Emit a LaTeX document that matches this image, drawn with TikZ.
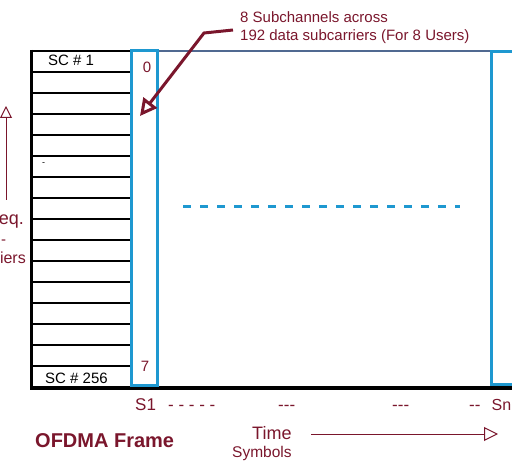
\documentclass[tikz,border=0pt]{standalone}
\usepackage{fontspec}
\setmainfont{Liberation Sans}
\usepackage{xcolor}
\usetikzlibrary{arrows.meta}
\definecolor{maroon}{RGB}{122,22,44}
\definecolor{symblue}{RGB}{30,152,208}
\definecolor{edgeblue}{RGB}{80,105,145}

\begin{document}
\begin{tikzpicture}[x=1pt,y=-1pt,
    lbl/.style={inner sep=0pt,text=maroon,anchor=base west},
    sclbl/.style={inner sep=0pt,anchor=base west,font=\fontsize{15}{18}\selectfont},
    symcol/.style={draw=symblue,line width=3pt,inner sep=0pt},
    scline/.style={line width=2.8pt,black},
    openhead/.style={-{Triangle[open,length=#1,width=#1]}}]
    \useasboundingbox (0,0) rectangle (512,468);
    \clip (0,0) rectangle (512,468);

    \foreach \i in {0,...,16}
        \draw[scline] (31,{51+21*\i}) -- (131,{51+21*\i});
    \draw[line width=3pt] (31,50) -- (31,389);
    \draw[line width=3.5pt] (30,388) -- (512,388);
    \draw[edgeblue,line width=2pt] (157,51) -- (491,51);

    \node[symcol,minimum width=26pt,minimum height=334pt] (sym1) at (144,218) {};
    \node[symcol,minimum width=40pt,minimum height=332pt] (symn) at (511,218) {};
    \draw[symblue,line width=3pt,dash pattern=on 8pt off 9pt] (183,207) -- (460,207);

    \node[sclbl] (sc1) at (48,66) {SC \# 1};
    \node[sclbl] (sc256) at (45,383) {SC \# 256};
    \node[inner sep=0pt,anchor=base west,font=\fontsize{9}{10}\selectfont] (mark) at (42,166) {-};
    \node[lbl,anchor=base,font=\fontsize{15}{16}\selectfont] (first) at (147,73) {0};
    \node[lbl,anchor=base,font=\fontsize{15}{16}\selectfont] (last) at (145,371) {7};

    \node[lbl,font=\fontsize{15}{18}\selectfont] (note1) at (240,22.7) {8 Subchannels across};
    \node[lbl,font=\fontsize{15}{18}\selectfont] (note2) at (240,40.7) {192 data subcarriers (For 8 Users)};
    \coordinate (from) at (233,30);
    \coordinate (bend) at (204,33);
    \coordinate (tip) at (140,116);
    \draw[maroon,line width=3pt,openhead=17pt] (from) -- (bend) -- (tip);

    \coordinate (flow) at (6,200);
    \coordinate (fhigh) at (6,106);
    \draw[maroon,line width=1pt,openhead=12pt] (flow) -- (fhigh);
    \node[lbl,anchor=base east,font=\fontsize{18}{20}\selectfont] (freq) at (24,225) {eq.};
    \node[lbl,font=\fontsize{15}{18}\selectfont] (hyph) at (1,245) {-};
    \node[lbl,anchor=base east,font=\fontsize{16}{18}\selectfont] (carr) at (26,263) {iers};

    \node[lbl,font=\fontsize{17}{20}\selectfont] (s1) at (135,410) {S1};
    \node[lbl,font=\fontsize{17}{20}\selectfont] (d1) at (168,410) {- - - - -};
    \node[lbl,font=\fontsize{17}{20}\selectfont] (d2) at (278,410) {-{}-{}-};
    \node[lbl,font=\fontsize{17}{20}\selectfont] (d3) at (392,410) {-{}-{}-};
    \node[lbl,font=\fontsize{17}{20}\selectfont] (d4) at (469,410) {-{}-};
    \node[lbl,font=\fontsize{16}{20}\selectfont] (sn) at (491.5,410) {Sn};

    \node[lbl,font=\bfseries\fontsize{20}{24}\selectfont] (title) at (35,447) {OFDMA Frame};
    \node[lbl,font=\fontsize{18}{20}\selectfont] (time) at (252,439) {Time};
    \node[lbl,font=\fontsize{15.5}{18}\selectfont] (symb) at (232,457) {Symbols};
    \coordinate (tstart) at (311,434);
    \coordinate (tend) at (498,434);
    \draw[maroon,line width=1pt,openhead=14pt] (tstart) -- (tend);
\end{tikzpicture}
\end{document}
